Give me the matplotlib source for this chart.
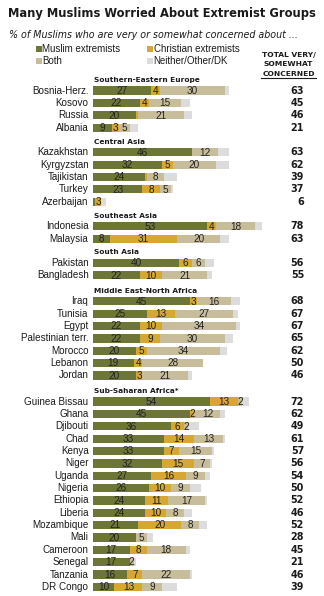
import matplotlib
matplotlib.use("Agg")
import matplotlib.pyplot as plt
from matplotlib.patches import Rectangle
from matplotlib.lines import Line2D

# ---------------- data ----------------
groups = ["Southern-Eastern Europe", "Central Asia", "Southeast Asia", "South Asia",
          "Middle East-North Africa", "Sub-Saharan Africa*"]
group_sizes = [4, 5, 2, 2, 7, 16]

countries = ["Bosnia-Herz.", "Kosovo", "Russia", "Albania",
             "Kazakhstan", "Kyrgyzstan", "Tajikistan", "Turkey", "Azerbaijan",
             "Indonesia", "Malaysia",
             "Pakistan", "Bangladesh",
             "Iraq", "Tunisia", "Egypt", "Palestinian terr.", "Morocco", "Lebanon", "Jordan",
             "Guinea Bissau", "Ghana", "Djibouti", "Chad", "Kenya", "Niger", "Uganda",
             "Nigeria", "Ethiopia", "Liberia", "Mozambique", "Mali", "Cameroon",
             "Senegal", "Tanzania", "DR Congo"]
muslim = [27, 22, 20, 9,
          46, 32, 24, 23, 1,
          53, 8,
          40, 22,
          45, 25, 22, 22, 20, 19, 20,
          54, 45, 36, 33, 33, 32, 27, 26, 24, 24, 21, 20, 17, 17, 16, 10]
christian = [4, 4, 1, 3,
             0, 5, 1, 8, 3,
             4, 31,
             6, 10,
             3, 13, 10, 9, 5, 4, 3,
             13, 2, 6, 14, 7, 15, 16, 10, 11, 10, 20, 0, 8, 0, 7, 13]
both = [30, 15, 21, 5,
        12, 20, 8, 5, 0,
        18, 20,
        6, 21,
        16, 27, 34, 30, 34, 28, 21,
        2, 12, 2, 13, 15, 7, 9, 9, 17, 8, 8, 5, 18, 2, 22, 9]
neither = [2, 4, 4, 4,
           5, 6, 6, 1, 2,
           3, 4,
           4, 2,
           4, 2, 2, 4, 3, 0, 2,
           3, 2, 5, 1, 1, 1, 2, 5, 1, 4, 4, 3, 2, 1, 1, 7]
total = [63, 45, 46, 21,
         63, 62, 39, 37, 6,
         78, 63,
         56, 55,
         68, 67, 67, 65, 62, 50, 46,
         72, 62, 49, 61, 57, 56, 54, 50, 52, 46, 52, 28, 45, 21, 46, 39]

series = [muslim, christian, both, neither]
series_names = ["Muslim extremists", "Christian extremists", "Both", "Neither/Other/DK"]
colors = ["#6e7637", "#d6a733", "#c8bd9b", "#dcdcdc"]

# ---------------- layout ----------------
W, H = 324, 596
fig = plt.figure(figsize=(W / 100, H / 100), dpi=100)
fig.patch.set_facecolor("white")

ax = fig.add_axes([0, 0, 1, 1])
ax.set_xlim(0, W)
ax.set_ylim(H, 0)
ax.axis("off")

bar_x0 = 92.7
px_per_unit = 2.165
bx = fig.add_axes([bar_x0 / W, 0, 100 * px_per_unit / W, 1])
bx.set_xlim(0, 100)
bx.set_ylim(H, 0)
bx.axis("off")

header_y = [80, 141.7, 215.7, 252.3, 290.7, 391]
row_gap = 12.35
ypos = []
for hy, n in zip(header_y, group_sizes):
    for k in range(n):
        ypos.append(hy + 10.6 + k * row_gap)

SANS = ["Liberation Sans", "DejaVu Sans"]
BOLD = ["DejaVu Sans"]
txt = "#1a1a1a"

# title and subtitle
ax.text(8, 13, "Many Muslims Worried About Extremist Groups", fontsize=8.3,
        fontweight="bold", family=BOLD, color=txt, va="center", ha="left")
ax.text(9, 35, "% of Muslims who are very or somewhat concerned about ...",
        fontsize=6.85, style="italic", family=BOLD, color=txt, va="center", ha="left")

# legend
leg_pos = [(36, 49), (147, 49), (36, 61), (147, 61)]
for (lx, ly), name, c in zip(leg_pos, series_names, colors):
    ax.add_patch(Rectangle((lx, ly - 3), 5.5, 5.5, facecolor=c, edgecolor="none"))
    ax.text(lx + 6.5, ly, name, fontsize=7.0, family=SANS, color=txt,
            va="center", ha="left")

# total header
for i, line in enumerate(["TOTAL VERY/", "SOMEWHAT", "CONCERNED"]):
    ax.text(288.5, 55.5 + i * 9, line, fontsize=5.4, fontweight="bold",
            family=BOLD, color=txt, va="center", ha="center")
ax.add_line(Line2D([261, 316], [78, 78], color=txt, lw=0.8))

# group headers
for g, hy in zip(groups, header_y):
    ax.text(93.5, hy, g, fontsize=5.3, fontweight="bold", family=BOLD,
            color=txt, va="center", ha="left")

# bars
bar_h = 8.3
lefts = [0] * len(countries)
for si, (vals, c) in enumerate(zip(series, colors)):
    bx.barh(ypos, vals, left=lefts, height=bar_h, color=c, edgecolor="none")
    if si < 3:
        for y, l, v in zip(ypos, lefts, vals):
            if v >= 2:
                bx.text(l + v / 2, y + 0.3, str(v), fontsize=7.2, family=SANS,
                        color="#222222", ha="center", va="center")
    lefts = [l + v for l, v in zip(lefts, vals)]

# country labels and totals
for y, name, t in zip(ypos, countries, total):
    ax.text(88.5, y, name, fontsize=7.1, family=SANS, color=txt,
            ha="right", va="center")
    ax.text(304, y, str(t), fontsize=6.9, fontweight="bold", family=BOLD,
            color=txt, ha="right", va="center")

fig.savefig("out.png", dpi=100)
